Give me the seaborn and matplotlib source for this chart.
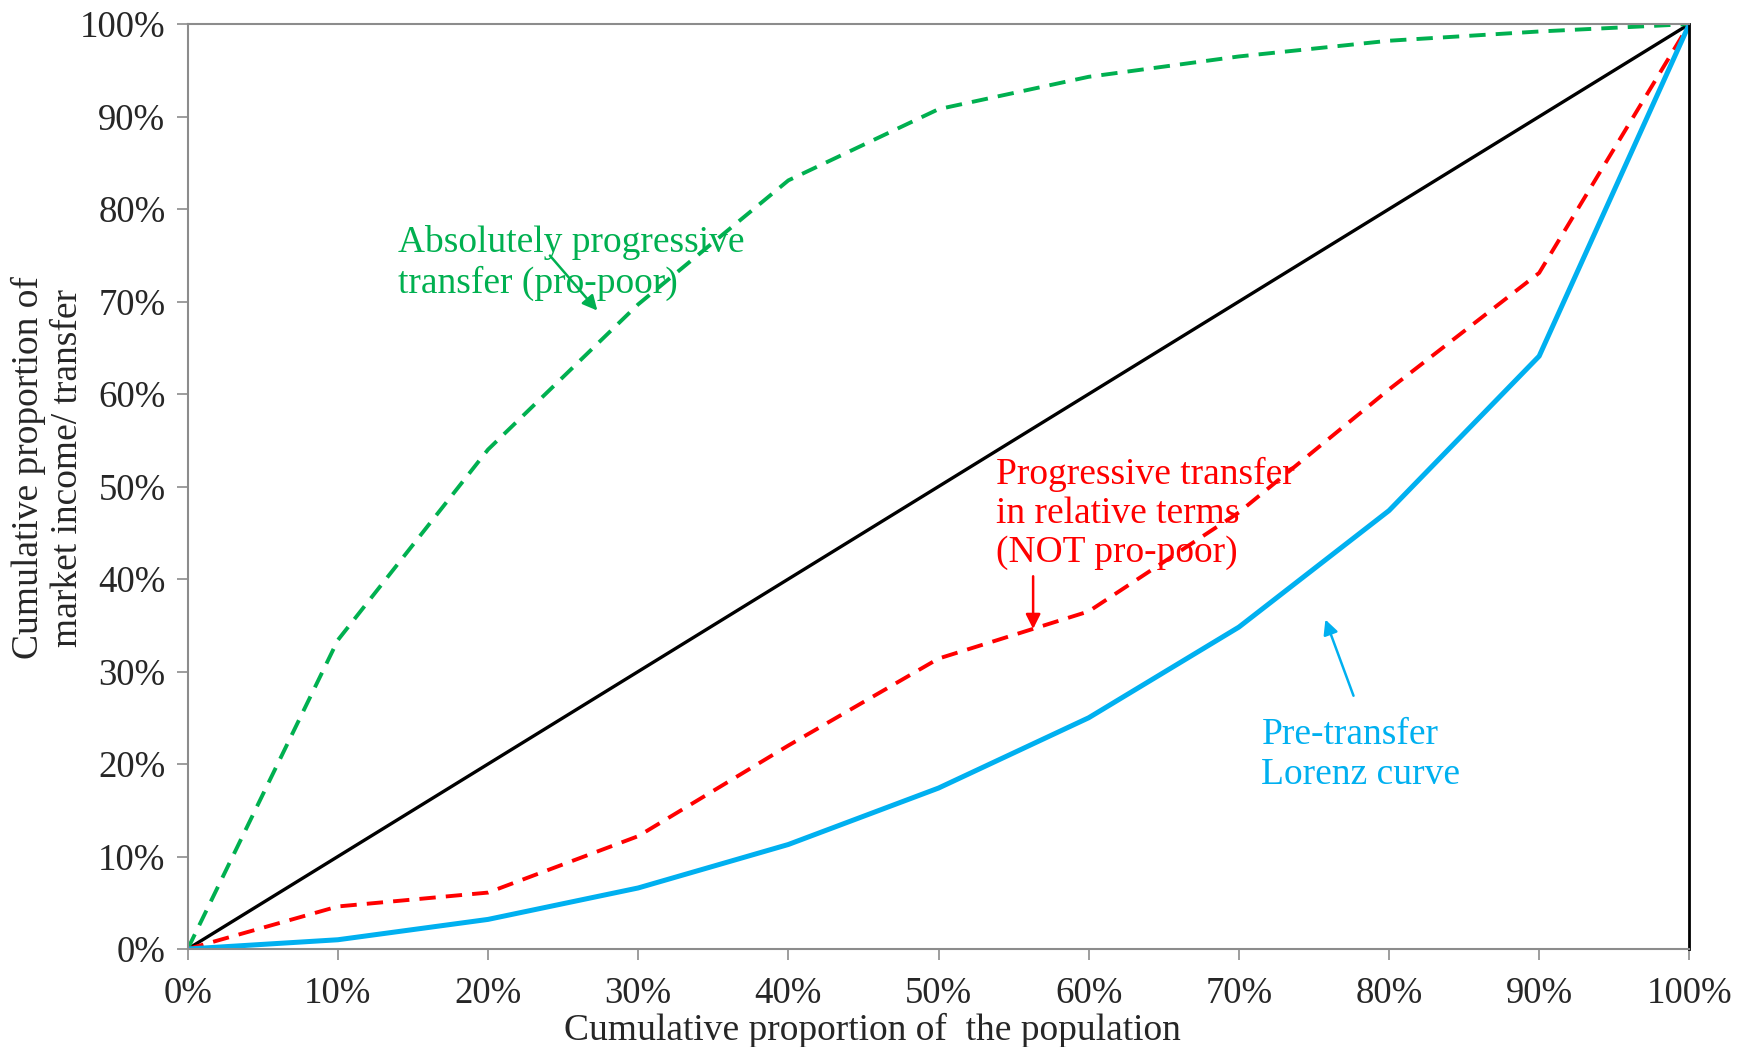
import numpy as np
import pandas as pd
import matplotlib
matplotlib.use("Agg")
import matplotlib.pyplot as plt
import seaborn as sns
from matplotlib.ticker import PercentFormatter

# cumulative share of population (%)
POP = [0, 10, 20, 30, 40, 50, 60, 70, 80, 90, 100]
ESITLIK = [0, 10, 20, 30, 40, 50, 60, 70, 80, 90, 100]
LORENZ = [0, 1.0, 3.2, 6.6, 11.3, 17.4, 25.0, 34.8, 47.4, 64.1, 100]
GORECELI = [0, 4.6, 6.1, 12.2, 22.0, 31.4, 36.5, 47.2, 60.5, 73.1, 100]
MUTLAK = [0, 33.4, 54.0, 69.7, 83.1, 90.8, 94.3, 96.5, 98.2, 99.2, 100]

YESIL = '#00B050'
KIRMIZI = '#FF0000'
MAVI = '#00B0F0'
GRI = '#8c8c8c'

df = pd.DataFrame({'pop': POP, 'esit': ESITLIK, 'lorenz': LORENZ,
                   'goreceli': GORECELI, 'mutlak': MUTLAK})

sns.set_style("white")
plt.rcParams['font.family'] = ['Liberation Serif', 'DejaVu Serif']
plt.rcParams['font.size'] = 26

fig = plt.figure(figsize=(17.38, 10.47), dpi=100)
ax = fig.add_axes([0.108, 0.0936, 0.864, 0.8834])

sns.lineplot(data=df, x='pop', y='esit', ax=ax, color='black', linewidth=2.4)
sns.lineplot(data=df, x='pop', y='mutlak', ax=ax, color=YESIL, linewidth=2.8,
             linestyle=(0, (4.2, 2.6)))
sns.lineplot(data=df, x='pop', y='goreceli', ax=ax, color=KIRMIZI, linewidth=2.8,
             linestyle=(0, (4.2, 2.6)))
sns.lineplot(data=df, x='pop', y='lorenz', ax=ax, color=MAVI, linewidth=3.6)

ax.set_xlim(0, 100)
ax.set_ylim(0, 100)
ax.set_xticks(np.arange(0, 101, 10))
ax.set_yticks(np.arange(0, 101, 10))
ax.xaxis.set_major_formatter(PercentFormatter(decimals=0))
ax.yaxis.set_major_formatter(PercentFormatter(decimals=0))
ax.tick_params(axis='both', direction='out', length=8, width=1.2, color=GRI,
               labelsize=26.5, pad=8, bottom=True, left=True)
ax.tick_params(axis='x', pad=12)
for s in ['left', 'bottom', 'top']:
    ax.spines[s].set_color(GRI)
    ax.spines[s].set_linewidth(1.5)
ax.spines['right'].set_color('black')
ax.spines['right'].set_linewidth(2)
ax.grid(False)

ax.set_xlabel("Cumulative proportion of  the population", fontsize=27, va='center')
ax.xaxis.set_label_coords(0.456, -0.0875)
ax.set_ylabel("Cumulative proportion of\nmarket income/ transfer", fontsize=27,
              linespacing=1.15, va='center')
ax.yaxis.set_label_coords(-0.093, 0.52)

ax.text(14.0, 74.2, "Absolutely progressive\ntransfer (pro-poor)", color=YESIL,
        fontsize=27, ha='left', va='center', linespacing=1.2)
ax.annotate("", xy=(27.4, 68.8), xytext=(24.0, 75.2),
            arrowprops=dict(arrowstyle='-|>', color=YESIL, lw=1.8, mutation_scale=22))

ax.text(53.8, 47.1, "Progressive transfer\nin relative terms\n(NOT pro-poor)",
        color=KIRMIZI, fontsize=27, ha='left', va='center', linespacing=1.18)
ax.annotate("", xy=(56.3, 34.3), xytext=(56.3, 40.6),
            arrowprops=dict(arrowstyle='-|>', color=KIRMIZI, lw=1.8, mutation_scale=22))

ax.text(71.5, 21.0, "Pre-transfer\nLorenz curve", color=MAVI,
        fontsize=27, ha='left', va='center', linespacing=1.2)
ax.annotate("", xy=(75.7, 35.9), xytext=(77.7, 27.1),
            arrowprops=dict(arrowstyle='-|>', color=MAVI, lw=1.8, mutation_scale=22))

fig.savefig('out.png', dpi=100)
